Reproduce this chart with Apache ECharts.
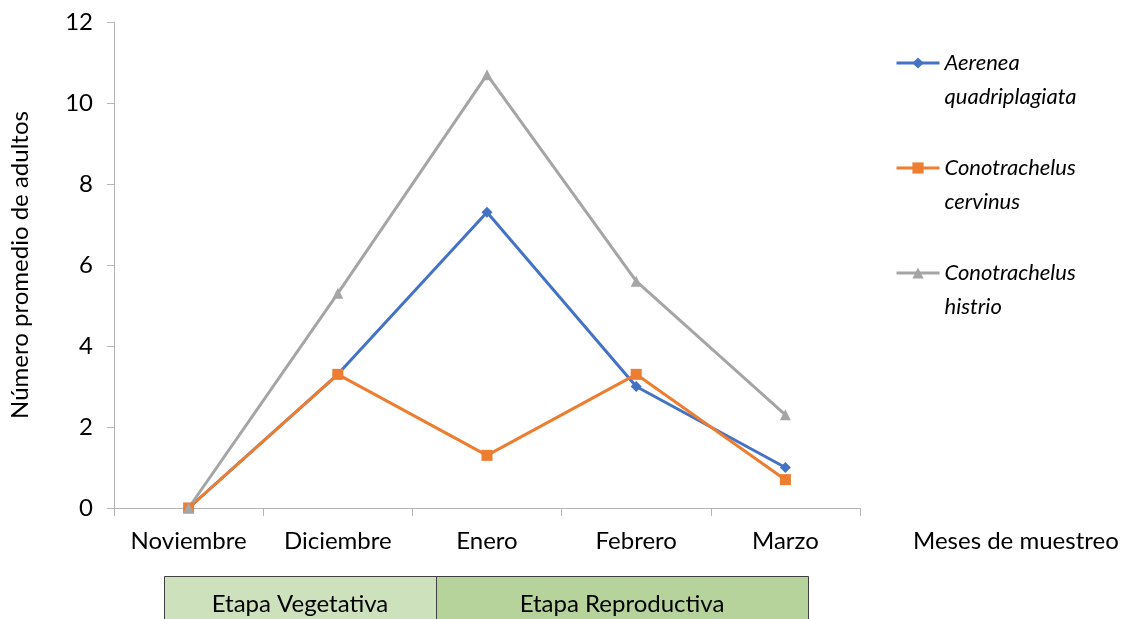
<!DOCTYPE html>
<html>
<head>
<meta charset="utf-8">
<script src="https://cdn.jsdelivr.net/npm/echarts@6/dist/echarts.min.js"></script>
<style>
html,body{margin:0;padding:0;background:#fff;}
#chart{width:1135px;height:619px;}
</style>
</head>
<body>
<div id="chart"></div>
<script>
const categories = ['Noviembre', 'Diciembre', 'Enero', 'Febrero', 'Marzo'];
const aereneaQuadriplagiata = [0, 3.3, 7.3, 3.0, 1.0];
const conotrachelusCervinus = [0, 3.3, 1.3, 3.3, 0.7];
const conotrachelusHistrio = [0, 5.3, 10.7, 5.6, 2.3];
const yTicks = { min: 0, max: 12, interval: 2 };
const seriesNames = ['Aerenea\nquadriplagiata', 'Conotrachelus\ncervinus', 'Conotrachelus\nhistrio'];
const stageLabels = ['Etapa Vegetativa', 'Etapa Reproductiva'];

const FONT = 'Lato';
const chart = echarts.init(document.getElementById('chart'), null, { renderer: 'canvas' });

function lineSeries(name, data, color, symbol, size) {
  return {
    name: name,
    type: 'line',
    data: data,
    symbol: symbol,
    symbolSize: size,
    showAllSymbol: true,
    lineStyle: { color: color, width: 3 },
    itemStyle: { color: color },
    emphasis: { disabled: true },
    animation: false,
    z: 3
  };
}

chart.setOption({
  animation: false,
  textStyle: { fontFamily: FONT },
  grid: { left: 114, right: 275, top: 22, bottom: 111, containLabel: false, outerBoundsMode: 'none' },
  legend: {
    orient: 'vertical',
    left: 890,
    top: 7,
    itemWidth: 43,
    itemHeight: 14,
    itemGap: 3,
    selectedMode: false,
    lineStyle: { width: 3 },
    formatter: function (name) { return '\n' + name; },
    textStyle: {
      fontFamily: FONT,
      fontSize: 22,
      fontStyle: 'italic',
      color: '#000',
      lineHeight: 34
    },
    data: seriesNames
  },
  xAxis: {
    type: 'category',
    data: categories,
    boundaryGap: true,
    name: 'Meses de muestreo',
    nameLocation: 'end',
    nameGap: 53,
    nameTextStyle: { fontFamily: FONT, fontSize: 24, color: '#000', verticalAlign: 'top', align: 'left', padding: [21, 0, 0, 0] },
    axisLine: { lineStyle: { color: '#b4b4b4', width: 1 } },
    axisTick: { show: true, length: 8, inside: false, alignWithLabel: false, lineStyle: { color: '#b4b4b4' } },
    axisLabel: { fontFamily: FONT, fontSize: 24, color: '#000', margin: 21, interval: 0 },
    splitLine: { show: false }
  },
  yAxis: {
    type: 'value',
    min: yTicks.min,
    max: yTicks.max,
    interval: yTicks.interval,
    name: 'Número promedio de adultos',
    nameLocation: 'middle',
    nameGap: 82,
    nameTextStyle: { fontFamily: FONT, fontSize: 24, color: '#000' },
    axisLine: { show: true, lineStyle: { color: '#b4b4b4', width: 1 } },
    axisTick: { show: true, length: 7, inside: false, lineStyle: { color: '#b4b4b4' } },
    axisLabel: { fontFamily: FONT, fontSize: 24, color: '#000', margin: 21 },
    splitLine: { show: false }
  },
  series: [
    lineSeries(seriesNames[0], aereneaQuadriplagiata, '#4472c4', 'diamond', 11),
    lineSeries(seriesNames[1], conotrachelusCervinus, '#ed7d31', 'rect', 11),
    lineSeries(seriesNames[2], conotrachelusHistrio, '#a5a5a5', 'triangle', 11)
  ],
  graphic: [
    {
      type: 'rect',
      shape: { x: 164.5, y: 576.5, width: 272, height: 60 },
      style: { fill: '#cde2bc', stroke: '#404040', lineWidth: 1 },
      z: 10
    },
    {
      type: 'rect',
      shape: { x: 436.5, y: 576.5, width: 372, height: 60 },
      style: { fill: '#b6d39c', stroke: '#404040', lineWidth: 1 },
      z: 10
    },
    {
      type: 'text',
      x: 300, y: 604,
      style: { text: stageLabels[0], fontFamily: FONT, fontSize: 24, fill: '#000', align: 'center', verticalAlign: 'middle' },
      z: 11
    },
    {
      type: 'text',
      x: 622, y: 604,
      style: { text: stageLabels[1], fontFamily: FONT, fontSize: 24, fill: '#000', align: 'center', verticalAlign: 'middle' },
      z: 11
    }
  ]
});
</script>
</body>
</html>
